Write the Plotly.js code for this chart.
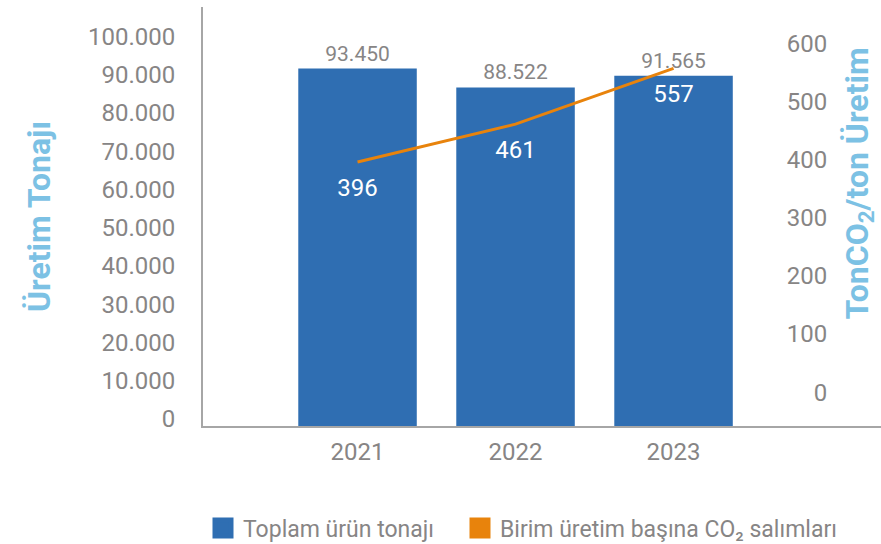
<!DOCTYPE html>
<html>
<head>
<meta charset="utf-8">
<script src="https://cdn.plot.ly/plotly-3.0.1.min.js"></script>
<style>html,body{margin:0;padding:0;background:#fff;}#chart{width:881px;height:544px;}</style>
</head>
<body>
<div id="chart"></div>
<script>
const years = ['2021', '2022', '2023'];
const production = [93450, 88522, 91565];
const co2PerTon = [396, 461, 557];
const seriesNames = ['Toplam ürün tonajı', 'Birim üretim başına CO₂ salımları'];
const axisTitles = ['Üretim Tonajı', 'TonCO<sub>2</sub>/ton Üretim'];

const blue = '#2f6eb2';
const orange = '#e8830c';
const gray = '#878585';
const titleBlue = '#7cc1e4';
const font = 'Roboto, "Open Sans", sans-serif';

const traces = [
  {
    type: 'bar', x: years, y: production, width: 0.75,
    marker: {color: blue}, showlegend: false,
    texttemplate: '%{y:,d}', textposition: 'outside', cliponaxis: false,
    textfont: {size: 21, color: gray, family: font}, hoverinfo: 'x+y'
  },
  {
    type: 'scatter', mode: 'lines+markers+text', x: years, y: co2PerTon, yaxis: 'y2',
    line: {color: orange, width: 3}, showlegend: false,
    marker: {size: 24, color: 'rgba(0,0,0,0)'},
    text: co2PerTon.map(String), textposition: 'bottom center', cliponaxis: false,
    textfont: {size: 24, color: '#ffffff', family: font}
  },
  // legend entries (no data)
  {type: 'scatter', mode: 'markers', x: [null], y: [null], name: seriesNames[0], legend: 'legend',
   marker: {symbol: 'square', size: 16, color: blue, line: {color: blue, width: 5}}},
  {type: 'scatter', mode: 'markers', x: [null], y: [null], name: seriesNames[1], legend: 'legend2',
   marker: {symbol: 'square', size: 16, color: orange, line: {color: orange, width: 5}}}
];

const legendBase = {
  orientation: 'h', xref: 'container', yref: 'container',
  xanchor: 'left', yanchor: 'middle', y: 0.0294,
  font: {size: 23, color: gray, family: font}, itemwidth: 30,
  bgcolor: 'rgba(0,0,0,0)'
};

const layout = {
  width: 881, height: 544,
  margin: {l: 203, r: 0, t: 7, b: 118, pad: 0},
  paper_bgcolor: '#fff', plot_bgcolor: '#fff',
  separators: ',.',
  barmode: 'overlay',
  font: {family: font, color: gray},
  showlegend: true,
  legend: Object.assign({}, legendBase, {x: 203 / 881}),
  legend2: Object.assign({}, legendBase, {x: 460 / 881}),
  xaxis: {
    type: 'category', range: [-0.978, 3.313],
    showline: true, linecolor: '#a6a6a6', linewidth: 2,
    ticks: '', showgrid: false, zeroline: false, automargin: false,
    tickfont: {size: 24, color: gray, family: font}, ticklabelstandoff: 3
  },
  yaxis: {
    range: [0, 109550], dtick: 10000, tickformat: ',d',
    showline: true, linecolor: '#a6a6a6', linewidth: 2,
    ticks: '', showgrid: false, zeroline: false, automargin: false,
    tickfont: {size: 24, color: gray, family: font},
    ticklabelstandoff: 21, ticklabelshift: -7,
    title: {text: axisTitles[0], standoff: 28,
            font: {size: 32, color: titleBlue, family: font, weight: 'bold'}}
  },
  yaxis2: {
    overlaying: 'y', anchor: 'free', position: 0.925, side: 'right',
    range: [-58.2, 662.5], dtick: 100, automargin: false,
    ticklabelposition: 'inside', ticks: '', showline: false,
    showgrid: false, zeroline: false,
    tickfont: {size: 24, color: gray, family: font}
  },
  annotations: [
    {text: axisTitles[1], textangle: -90, xref: 'paper', yref: 'paper',
     x: (859 - 203) / 678, y: 0.579, xanchor: 'center', yanchor: 'middle', showarrow: false,
     font: {size: 32, color: titleBlue, family: font, weight: 'bold'}}
  ]
};

Plotly.newPlot('chart', traces, layout, {displayModeBar: false, staticPlot: true});
</script>
</body>
</html>
